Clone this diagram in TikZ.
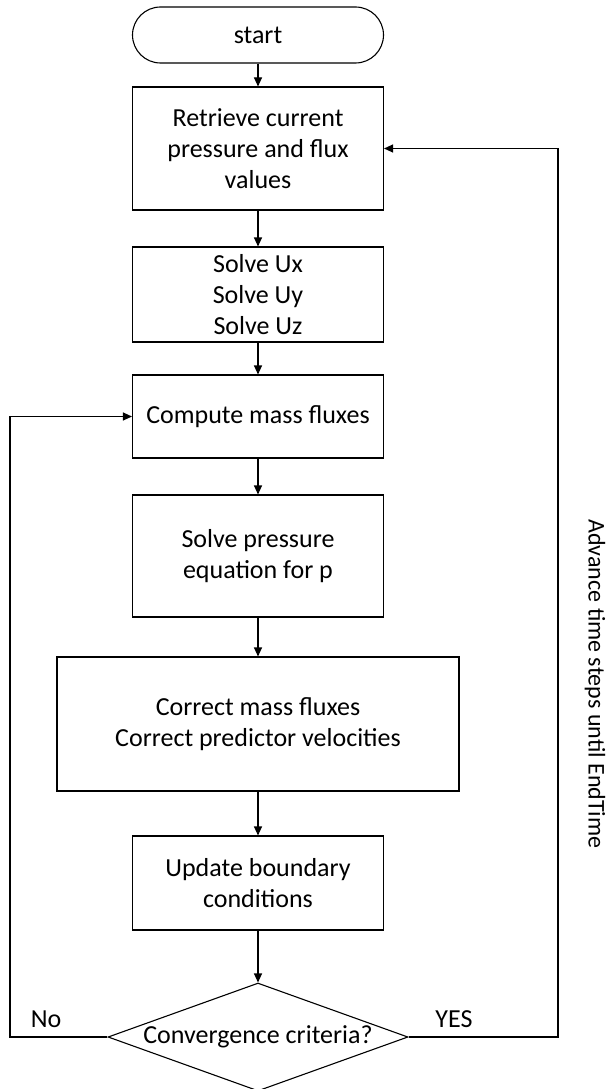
\documentclass[tikz,border=0pt]{standalone}
\usepackage{fontspec}
\setmainfont{Carlito}
\usetikzlibrary{arrows.meta,positioning,shapes.geometric}

\begin{document}
\begin{tikzpicture}[x=1pt,y=-1pt,on grid,line width=1.1pt,
    >={Triangle[length=9pt,width=8pt]},
    every node/.style={font=\fontsize{26}{31}\selectfont,align=center},
    block/.style={draw,rectangle,minimum width=251pt,inner sep=2pt},
    term/.style={draw,rectangle,rounded corners=28pt,minimum width=251pt,minimum height=56pt},
    decision/.style={draw,diamond,aspect=2.78,inner sep=0pt,minimum width=300pt,minimum height=108pt}]
    \useasboundingbox (0,0) rectangle (609,1089);
    \node[term](start) at (258,35) {start};
    \node[block,minimum height=123pt](retrieve)[below=113.5pt of start]{Retrieve current\\pressure and flux\\values};
    \node[block,minimum height=95pt](solveU)[below=146pt of retrieve]{Solve Ux\\Solve Uy\\Solve Uz};
    \node[block,minimum height=83pt](massflux)[below=122pt of solveU]{Compute mass fluxes};
    \node[block,minimum height=122pt](pressure)[below=139.5pt of massflux]{Solve pressure\\equation for p};
    \node[block,minimum width=402pt,minimum height=134pt](correct)[below=168pt of pressure]{Correct mass fluxes\\Correct predictor velocities};
    \node[block,minimum height=94pt](boundary)[below=159pt of correct]{Update boundary\\conditions};
    \node[decision](converge)[below=154pt of boundary]{Convergence criteria?};
    \coordinate (noturn) at (10,1037);
    \coordinate (yesturn) at (558,1037);
    \path[->]
    (start) edge (retrieve)
    (retrieve) edge (solveU)
    (solveU) edge (massflux)
    (massflux) edge (pressure)
    (pressure) edge (correct)
    (correct) edge (boundary)
    (boundary) edge (converge);
    \draw[->] (converge.west) -- (noturn) |- (massflux.west);
    \draw[->] (converge.east) -- (yesturn) |- (retrieve.east);
    \node (nolbl) at (46,1019) {No};
    \node (yeslbl) at (454,1019) {YES};
    \node[rotate=-90,font=\fontsize{24}{29}\selectfont] (advance) at (595,684) {Advance time steps until EndTime};
\end{tikzpicture}
\end{document}
